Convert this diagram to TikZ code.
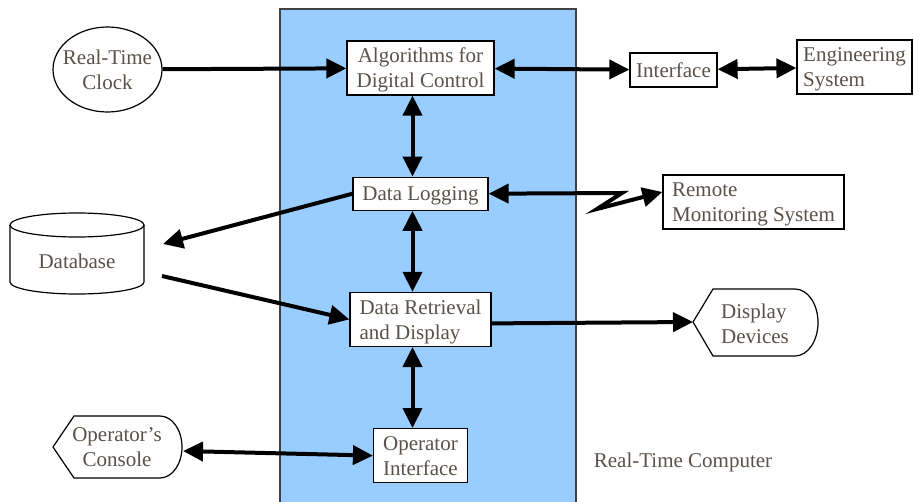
\documentclass[tikz,border=0pt]{standalone}
\usepackage{fontspec}
\setmainfont{Liberation Serif}
\usetikzlibrary{arrows.meta,positioning,shapes.geometric}
\definecolor{rtblue}{HTML}{99CCFF}
\definecolor{txtgray}{HTML}{5A5148}
\tikzset{
  >={Triangle[length=10pt,width=9.5pt]},
  node distance=40.5pt,
  box/.style={draw, fill=white, line width=0.6pt, inner sep=0pt, text=txtgray, text depth=-1.75pt},
  outline/.style={draw, fill=white, line width=0.6pt},
  flow/.style={->, line width=2pt},
  dflow/.style={<->, line width=2pt},
}
\begin{document}
\begin{tikzpicture}[x=0.5pt, y=-0.5pt, font=\fontsize{10.5}{12.5}\selectfont]
  \useasboundingbox (0,0) rectangle (914,502);

  % Computer
  \fill[rtblue] (280,9) rectangle (576,502);
  \draw[line width=0.6pt, black!75] (280,502) -- (280,9) -- (576,9) -- (576,502);
  \node[text=txtgray] (rtc) at (683,462) {Real-Time Computer};

  % Boxes
  \node[box, ellipse, inner xsep=-4pt, minimum width=54.5pt, minimum height=42.5pt, align=center] (clock) at (107.5,69.5) {Real-Time\\Clock};
  \node[box, minimum width=73.5pt, minimum height=27pt, align=center] (algo) at (420.5,68) {Algorithms for\\Digital Control};
  \node[box, minimum width=67.5pt, minimum height=16.5pt, text depth=-0.5pt, below=of algo] (log) {Data Logging};
  \node[box, minimum width=70.5pt, minimum height=27pt, align=left, below=of log] (ret) {Data Retrieval\\and Display};
  \node[box, minimum width=47pt, minimum height=27pt, align=center, below=of ret] (opif) {Operator\\Interface};
  \node[box, minimum width=43.5pt, minimum height=17pt, text depth=0pt] (iface) at (673.5,70) {Interface};
  \node[box, minimum width=57.5pt, minimum height=27pt, align=left] (eng) at (854.5,67) {Engineering\\System};
  \node[box, minimum width=90.5pt, minimum height=27pt, align=left, text depth=-2pt] (remote) at (753.5,202) {Remote\\Monitoring System};

  % Database
  \draw[outline] (10,225) -- (10,282) arc[start angle=180, end angle=360, x radius=33.5pt, y radius=6pt] -- (144,225);
  \draw[outline] (77,225) ellipse [x radius=33.5pt, y radius=6pt];
  \node[text=txtgray] (db) at (77,261) {Database};

  % Display devices
  \draw[outline] (693,322) -- (713,289) -- (795,289) arc[start angle=90, end angle=-90, x radius=11.5pt, y radius=16.75pt] -- (713,356) -- cycle;
  \node[text=txtgray, align=left] (disp) at (755,323.5) {Display\\Devices};

  % Console
  \draw[outline] (53,447) -- (74,416) -- (160,416) arc[start angle=90, end angle=-90, x radius=11pt, y radius=15.5pt] -- (74,478) -- cycle;
  \node[text=txtgray, align=center] (cons) at (117,447.5) {Operator’s\\Console};

  % Connections
  \coordinate (zz1) at (622,193);
  \coordinate (zz2) at (597,209);
  \coordinate (dbin) at (163,244);
  \coordinate (dbout) at (162,276);
  \coordinate (disptip) at (693,322);
  \coordinate (contip) at (183,451);

  \draw[flow] (clock) -- (algo);
  \draw[dflow] (algo) -- (iface);
  \draw[dflow] (iface) -- (eng);
  \draw[dflow] ([xshift=-4pt]algo.south) -- ([xshift=-4pt]log.north);
  \draw[dflow] (log.east) -- (zz1) -- (zz2) -- ([yshift=5pt]remote.west);
  \draw[flow] (log.west) -- (dbin);
  \draw[flow] (dbout) -- (ret.west);
  \draw[dflow] ([xshift=-4pt]log.south) -- ([xshift=-4pt]ret.north);
  \draw[flow] ([yshift=-2pt]ret.east) -- (disptip);
  \draw[dflow] ([xshift=-4pt]ret.south) -- ([xshift=-4pt]opif.north);
  \draw[dflow] (contip) -- (opif.west);
\end{tikzpicture}
\end{document}
